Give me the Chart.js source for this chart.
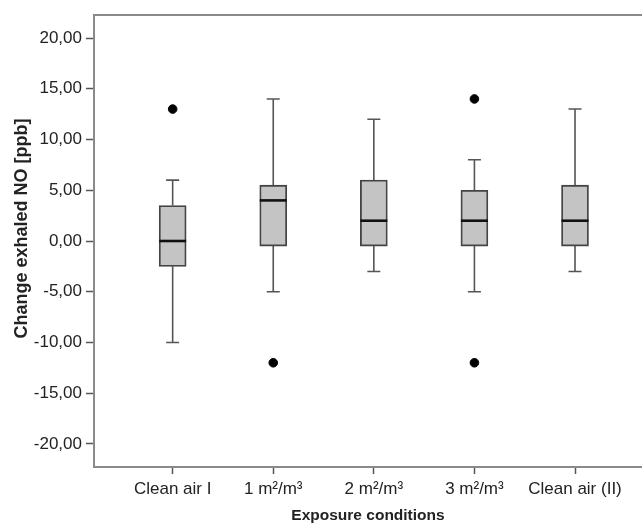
<!DOCTYPE html>
<html>
<head>
<meta charset="utf-8">
<script src="https://cdn.jsdelivr.net/npm/chart.js@4.4.1/dist/chart.umd.min.js"></script>
<style>
  html, body { margin: 0; padding: 0; background: #fff; }
  #wrap { width: 642px; height: 525px; position: relative; }
</style>
</head>
<body>
<div id="wrap"><canvas id="c" width="642" height="525"></canvas></div>
<script>
// ---- data ----
const categories = ['Clean air I', '1 m\u00B2/m\u00B3', '2 m\u00B2/m\u00B3', '3 m\u00B2/m\u00B3', 'Clean air (II)'];
const whiskerLow  = [-10, -5, -3, -5, -3];
const q1          = [-2.5, -0.5, -0.5, -0.5, -0.5];
const median      = [0, 4, 2, 2, 2];
const q3          = [3.5, 5.5, 6, 5, 5.5];
const whiskerHigh = [6, 14, 12, 8, 13];
const outlierCat  = [1, 2, 4, 4];
const outlierVal  = [13, -12, 14, -12];
const yTicks      = [-20, -15, -10, -5, 0, 5, 10, 15, 20];
const xTicks      = [1, 2, 3, 4, 5];
const yTitle      = 'Change exhaled NO [ppb]';
const xTitle      = 'Exposure conditions';

const FONT = "'Liberation Sans', Arial, sans-serif";
const FRAME = '#8a8a8a';
const TEXT = '#222';

const boxData = categories.map((c, i) => ({ x: i + 1, y: [q1[i], q3[i]] }));
const outlierData = outlierCat.map((c, i) => ({ x: c, y: outlierVal[i] }));

const boxPlugin = {
  id: 'boxExtras',
  beforeDatasetsDraw(chart) {
    const ctx = chart.ctx;
    const xs = chart.scales.x, ys = chart.scales.y;
    ctx.save();
    ctx.strokeStyle = '#555';
    ctx.lineWidth = 1.6;
    categories.forEach((c, i) => {
      const x = xs.getPixelForValue(i + 1);
      const yHi = ys.getPixelForValue(whiskerHigh[i]);
      const yLo = ys.getPixelForValue(whiskerLow[i]);
      const yQ3 = ys.getPixelForValue(q3[i]);
      const yQ1 = ys.getPixelForValue(q1[i]);
      const cap = 6.5;
      ctx.beginPath();
      ctx.moveTo(x, yQ3); ctx.lineTo(x, yHi);
      ctx.moveTo(x - cap, yHi); ctx.lineTo(x + cap, yHi);
      ctx.moveTo(x, yQ1); ctx.lineTo(x, yLo);
      ctx.moveTo(x - cap, yLo); ctx.lineTo(x + cap, yLo);
      ctx.stroke();
    });
    ctx.restore();
  },
  afterDatasetsDraw(chart) {
    const ctx = chart.ctx;
    const ys = chart.scales.y;
    const meta = chart.getDatasetMeta(0);
    ctx.save();
    ctx.strokeStyle = '#111';
    ctx.lineWidth = 2.6;
    meta.data.forEach((bar, i) => {
      const y = ys.getPixelForValue(median[i]);
      const w = bar.width;
      ctx.beginPath();
      ctx.moveTo(bar.x - w / 2, y);
      ctx.lineTo(bar.x + w / 2, y);
      ctx.stroke();
    });
    // top frame line
    const a = chart.chartArea;
    ctx.strokeStyle = FRAME;
    ctx.lineWidth = 2;
    ctx.beginPath();
    ctx.moveTo(a.left - 1, a.top);
    ctx.lineTo(a.right, a.top);
    ctx.stroke();
    ctx.restore();
  }
};

new Chart(document.getElementById('c'), {
  type: 'bar',
  data: {
    datasets: [
      {
        type: 'bar',
        data: boxData,
        backgroundColor: '#c4c4c4',
        borderColor: '#444',
        borderWidth: 1.8,
        borderSkipped: false,
        barThickness: 27,
        order: 2
      },
      {
        type: 'scatter',
        data: outlierData,
        backgroundColor: '#000',
        borderColor: '#000',
        pointRadius: 4.3,
        pointHoverRadius: 4.3,
        order: 1
      }
    ]
  },
  options: {
    responsive: false,
    animation: false,
    events: [],
    layout: { autoPadding: false, padding: { top: 15, right: 0, left: 0, bottom: 0 } },
    plugins: { legend: { display: false }, tooltip: { enabled: false } },
    scales: {
      x: {
        type: 'linear',
        position: 'bottom',
        offset: false,
        min: 0.218,
        max: 5.666,
        afterBuildTicks(scale) { scale.ticks = xTicks.map(v => ({ value: v })); },
        afterFit(scale) { scale.height = 58; },
        ticks: {
          autoSkip: false,
          maxRotation: 0,
          padding: 5,
          color: TEXT,
          font: { family: FONT, size: 17 },
          callback: (v) => categories[v - 1]
        },
        grid: {
          display: true,
          offset: false,
          drawOnChartArea: false,
          drawTicks: true,
          tickLength: 7,
          tickColor: '#555',
          tickWidth: 1.5
        },
        border: { display: true, color: FRAME, width: 2 },
        title: {
          display: true,
          text: xTitle,
          color: TEXT,
          font: { family: FONT, size: 15.5, weight: 'bold' },
          padding: { top: 0, bottom: 0 }
        }
      },
      y: {
        type: 'linear',
        min: -22.27,
        max: 22.27,
        afterBuildTicks(scale) { scale.ticks = yTicks.map(v => ({ value: v })); },
        afterFit(scale) { scale.width = 94; },
        ticks: {
          padding: 4,
          color: TEXT,
          font: { family: FONT, size: 17 },
          callback: (v) => v.toFixed(2).replace('.', ',')
        },
        grid: {
          display: true,
          drawOnChartArea: false,
          drawTicks: true,
          tickLength: 8,
          tickColor: '#555',
          tickWidth: 1.5
        },
        border: { display: true, color: FRAME, width: 2 },
        title: {
          display: true,
          text: '     ' + yTitle,
          color: TEXT,
          font: { family: FONT, size: 18, weight: 'bold' },
          padding: { top: 11, bottom: 0 }
        }
      }
    }
  },
  plugins: [boxPlugin]
});
</script>
</body>
</html>
